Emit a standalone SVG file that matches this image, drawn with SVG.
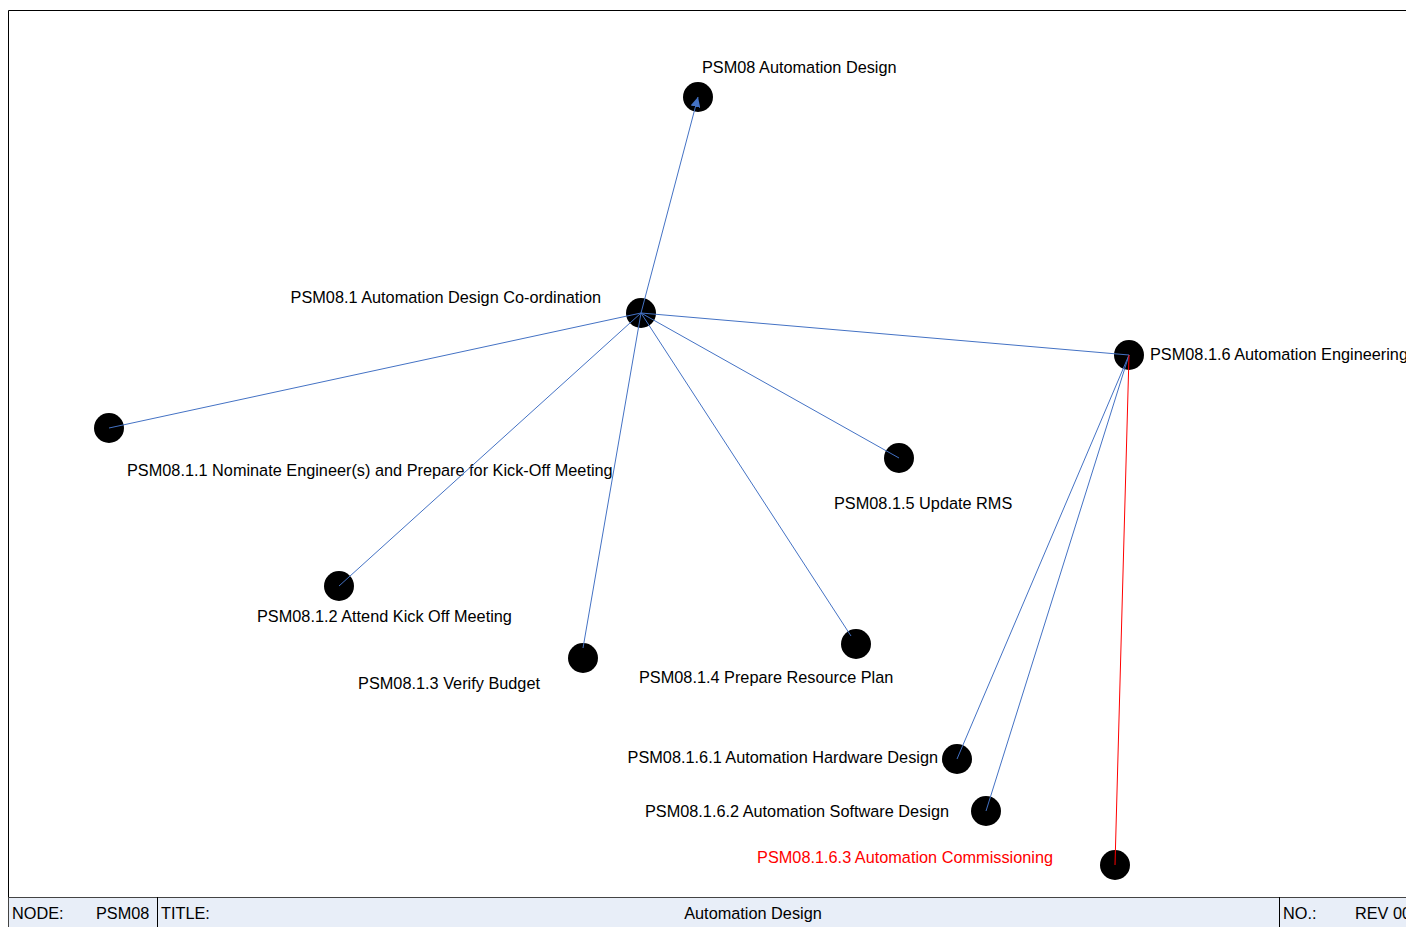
<svg xmlns="http://www.w3.org/2000/svg" width="1406" height="927" viewBox="0 0 1406 927">
  <style>
    .lbl { font-family: "Liberation Sans", Arial, sans-serif; font-size: 16.3px; fill: #000; }
    .red { fill: #ff0000; }
    .end { text-anchor: end; }
    .node circle { fill: #000; }
    .edge { stroke: #4472c4; stroke-width: 1; fill: none; }
    .edge.hot { stroke: #ff0000; }
  </style>
  <defs>
    <marker id="arrow" viewBox="0 0 10 10" refX="10" refY="5" markerWidth="10" markerHeight="10" markerUnits="userSpaceOnUse" orient="auto">
      <path d="M0,0 L10,5 L0,10 z" fill="#4472c4"/>
    </marker>
  </defs>

  <!-- sheet frame -->
  <rect x="0" y="0" width="1406" height="927" fill="#fff"/>
  <path d="M8.5,927 V10.5 H1406" fill="none" stroke="#000" stroke-width="1"/>

  <!-- nodes -->
  <g id="PSM08" class="node">
    <circle cx="698" cy="97" r="15"/>
    <text class="lbl" x="702" y="73">PSM08 Automation Design</text>
  </g>
  <g id="PSM08.1" class="node">
    <circle cx="641" cy="313" r="15"/>
    <text class="lbl end" x="601" y="303">PSM08.1 Automation Design Co-ordination</text>
  </g>
  <g id="PSM08.1.1" class="node">
    <circle cx="109" cy="428" r="15"/>
    <text class="lbl" x="127" y="476">PSM08.1.1 Nominate Engineer(s) and Prepare for Kick-Off Meeting</text>
  </g>
  <g id="PSM08.1.2" class="node">
    <circle cx="339" cy="586" r="15"/>
    <text class="lbl" x="257" y="622">PSM08.1.2 Attend Kick Off Meeting</text>
  </g>
  <g id="PSM08.1.3" class="node">
    <circle cx="583" cy="658" r="15"/>
    <text class="lbl end" x="540" y="689">PSM08.1.3 Verify Budget</text>
  </g>
  <g id="PSM08.1.4" class="node">
    <circle cx="856" cy="644" r="15"/>
    <text class="lbl" x="639" y="683">PSM08.1.4 Prepare Resource Plan</text>
  </g>
  <g id="PSM08.1.5" class="node">
    <circle cx="899" cy="458" r="15"/>
    <text class="lbl" x="834" y="509">PSM08.1.5 Update RMS</text>
  </g>
  <g id="PSM08.1.6" class="node">
    <circle cx="1129" cy="355" r="15"/>
    <text class="lbl" x="1150" y="360">PSM08.1.6 Automation Engineering</text>
  </g>
  <g id="PSM08.1.6.1" class="node">
    <circle cx="957" cy="759" r="15"/>
    <text class="lbl end" x="938" y="763">PSM08.1.6.1 Automation Hardware Design</text>
  </g>
  <g id="PSM08.1.6.2" class="node">
    <circle cx="986" cy="811" r="15"/>
    <text class="lbl end" x="949" y="817">PSM08.1.6.2 Automation Software Design</text>
  </g>
  <g id="PSM08.1.6.3" class="node">
    <circle cx="1115" cy="865" r="15"/>
    <text class="lbl red end" x="1053" y="863">PSM08.1.6.3 Automation Commissioning</text>
  </g>

  <!-- connectors -->
  <g id="connectors">
    <line class="edge" x1="641" y1="313" x2="698" y2="97" marker-end="url(#arrow)"/>
    <line class="edge" x1="641" y1="313" x2="109" y2="428"/>
    <line class="edge" x1="641" y1="313" x2="339" y2="586"/>
    <line class="edge" x1="641" y1="313" x2="583" y2="648"/>
    <line class="edge" x1="641" y1="313" x2="851" y2="636"/>
    <line class="edge" x1="641" y1="313" x2="899" y2="458"/>
    <line class="edge" x1="641" y1="313" x2="1129" y2="355"/>
    <line class="edge" x1="1129" y1="355" x2="957" y2="759"/>
    <line class="edge" x1="1129" y1="355" x2="986" y2="811"/>
    <line class="edge hot" x1="1129" y1="355" x2="1115" y2="865"/>
  </g>

  <!-- title block -->
  <g id="title-block">
    <rect x="8.5" y="897.5" width="1398" height="30" fill="#e8eef8" stroke="#444" stroke-width="1"/>
    <line x1="157.5" y1="897" x2="157.5" y2="927" stroke="#000"/>
    <line x1="1279.5" y1="897" x2="1279.5" y2="927" stroke="#000"/>
    <text class="lbl" x="12" y="919">NODE:</text>
    <text class="lbl" x="96" y="919">PSM08</text>
    <text class="lbl" x="161" y="919">TITLE:</text>
    <text class="lbl" x="753" y="919" text-anchor="middle">Automation Design</text>
    <text class="lbl" x="1283" y="919">NO.:</text>
    <text class="lbl" x="1355" y="919">REV 00</text>
  </g>
</svg>
